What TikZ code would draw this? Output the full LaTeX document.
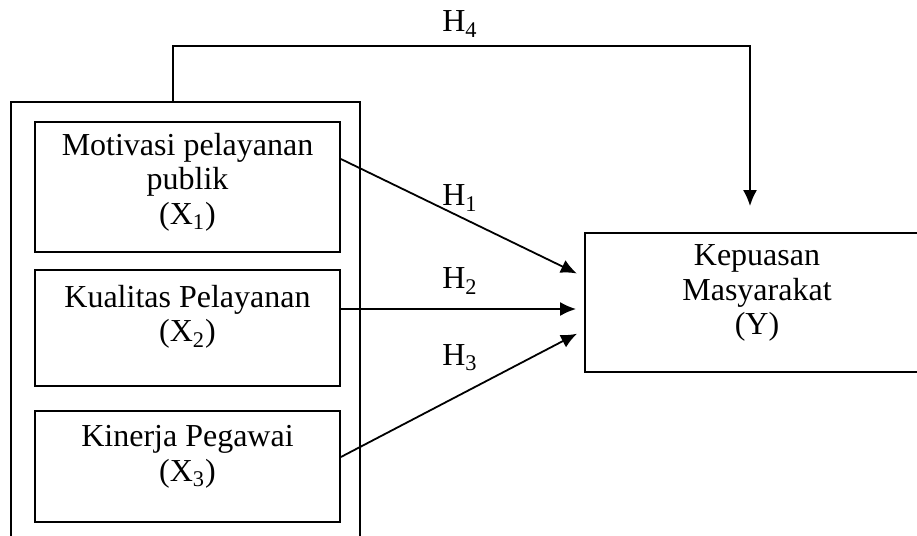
\documentclass[tikz,border=0pt]{standalone}
\usepackage{fontspec}
\setmainfont{Liberation Serif}
\usetikzlibrary{arrows.meta, positioning}

\tikzset{
    box/.style={draw, rectangle, line width=0.9pt, inner sep=0pt, minimum width=152.5pt},
    txt/.style={align=center, inner sep=0pt, font=\fontsize{16}{17.3}\selectfont},
    hyp/.style={-{Latex[length=8pt,width=7pt]}, line width=0.9pt},
}

\begin{document}
\begin{tikzpicture}[x=0.5pt, y=-0.5pt]
    \clip (0,0) rectangle (917,536);
    % kotak variabel
    \node[box, minimum width=174.5pt, minimum height=224pt] (outer) at (185.5,326) {};
    \node[box, minimum height=65pt] (x1) at (187.5,187) {};
    \node[box, minimum height=58pt] (x2) at (187.5,328) {};
    \node[box, minimum height=55.5pt] (x3) at (187.5,466.5) {};
    \node[box, minimum width=172pt, minimum height=69.5pt] (y) at (757,302.5) {};
    \node[txt] (tx1) at (187.5,182) {Motivasi pelayanan\\publik\\(X\textsubscript{1})};
    \node[txt] (tx2) at (187.5,317) {Kualitas Pelayanan\\(X\textsubscript{2})};
    \node[txt] (tx3) at (187.5,457) {Kinerja Pegawai\\(X\textsubscript{3})};
    \node[txt] (ty) at (757,293) {Kepuasan\\Masyarakat\\(Y)};
    % hipotesis
    \coordinate (corner) at (750,46);
    \draw[hyp, shorten >=4pt] ([yshift=14pt]x1.east) -- ([yshift=12.75pt]y.west);
    \draw[hyp, shorten >=4pt] ([yshift=9.5pt]x2.east) -- ([yshift=-3.25pt]y.west);
    \draw[hyp, shorten >=4pt] ([yshift=4.75pt]x3.east) -- ([yshift=-13.75pt]y.west);
    \draw[hyp] ([xshift=-6.25pt]outer.north) |- (corner) -- ([xshift=-3.5pt,yshift=13pt]y.north);
    \node[txt] (h1) at (460,198) {H\textsubscript{1}};
    \node[txt] (h2) at (460,281) {H\textsubscript{2}};
    \node[txt] (h3) at (460,358) {H\textsubscript{3}};
    \node[txt] (h4) at (460,24) {H\textsubscript{4}};
\end{tikzpicture}
\end{document}
